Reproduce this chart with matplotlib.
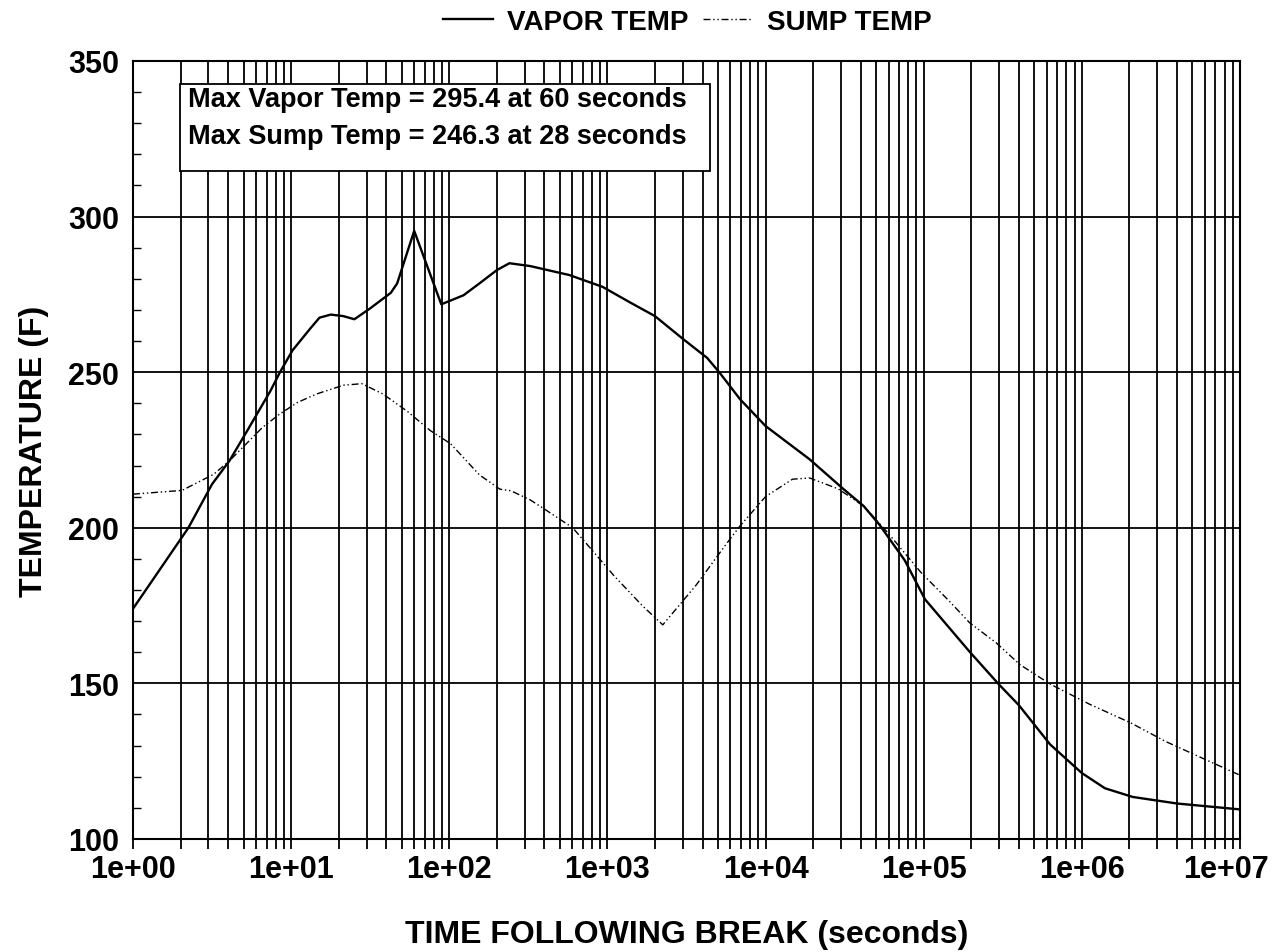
import numpy as np
import matplotlib
matplotlib.use("Agg")
import matplotlib.pyplot as plt
import matplotlib.transforms as mtransforms
from matplotlib.ticker import LogLocator, FixedLocator, FuncFormatter, NullFormatter
from matplotlib.patches import Rectangle

plt.rcParams['font.family'] = ['Liberation Sans', 'DejaVu Sans']
plt.rcParams['font.weight'] = 'bold'
plt.rcParams['axes.labelweight'] = 'bold'

# Containment vapor temperature vs time (seconds, deg F)
vapor_time = [1, 2.24, 3.16, 4.07, 5.25, 7.4, 8.5, 10.2, 13.2, 15.1, 17.8, 21.4, 25.1,
              31.6, 42.7, 46.8, 60, 89, 123, 155, 200, 240, 324, 575, 933, 1380,
              2000, 3000, 4270, 5130, 6900, 1.0e4, 1.9e4, 3.1e4, 4.17e4, 5.25e4,
              7.6e4, 1.02e5, 1.95e5, 2.95e5, 4.0e5, 6.3e5, 1.0e6, 1.4e6, 2.1e6,
              4.0e6, 1.0e7]
vapor_temp = [174, 200, 214, 221.5, 231, 244, 250, 257, 264, 267.5, 268.5, 268, 267,
              270.5, 275.5, 278.5, 295.4, 271.8, 274.7, 278.5, 282.8, 285, 284.1, 281.2,
              277.4, 272.5, 268, 260.7, 254.6, 249.8, 241.3, 232.7, 222, 212.5, 207,
              201, 189.5, 177, 160.2, 150, 143, 130.4, 121.2, 116.3, 113.5, 111.4, 109.5]

# Sump water temperature vs time
sump_time = [1, 2.04, 3.24, 4.07, 6.6, 8.5, 11, 14.5, 21.4, 28, 38, 53.7, 76, 102, 155,
             209, 245, 324, 417, 603, 794, 1100, 1660, 2240, 3630, 5500, 6900, 1.0e4,
             1.48e4, 1.9e4, 2.88e4, 4.17e4, 5.89e4, 9.55e4, 1.48e5, 1.95e5, 2.88e5,
             4.07e5, 6.3e5, 1.12e6, 2.04e6, 3.4e6, 1.0e7]
sump_temp = [210.8, 212, 217.2, 221.5, 232.3, 236.6, 240.3, 243, 245.8, 246.3, 243, 237.6,
             231.2, 227, 217, 212.4, 211.9, 209, 205.4, 200, 193, 184.6, 175, 168.8, 181.5,
             194, 200.6, 210, 215.6, 216, 212.5, 207, 198.6, 185.8, 176, 169.5, 163, 156,
             149.8, 143.3, 137.3, 131.3, 120.5]

x_decades = [0, 1, 2, 3, 4, 5, 6, 7]
y_ticks = [100, 150, 200, 250, 300, 350]
summary_lines = ["Max Vapor Temp = 295.4 at 60 seconds",
                 "Max Sump Temp = 246.3 at 28 seconds"]

fig = plt.figure(figsize=(12.73, 9.53), dpi=100)
ax = fig.add_axes([0.1045, 0.1186, 0.8695, 0.8164])

ax.plot(vapor_time, vapor_temp, color='black', lw=1.7, label='VAPOR TEMP', zorder=3)
ax.plot(sump_time, sump_temp, color='black', lw=1.0, dashes=(5, 2, 1, 2, 1, 2),
        label='SUMP TEMP', zorder=3)

ax.set_xscale('log')
ax.set_xlim(1, 1e7)
ax.set_ylim(100, 350)

ax.xaxis.set_major_locator(FixedLocator([10.0 ** k for k in x_decades]))
ax.xaxis.set_major_formatter(FuncFormatter(lambda v, p: "1e+%02d" % int(round(np.log10(v)))))
ax.xaxis.set_minor_locator(LogLocator(base=10, subs=np.arange(2, 10), numticks=100))
ax.xaxis.set_minor_formatter(NullFormatter())
ax.set_yticks(y_ticks)
ax.yaxis.set_minor_locator(FixedLocator(np.arange(100, 351, 10)))

# every log subdivision gets a vertical line, horizontals only every 50 F
ax.grid(True, which='both', axis='x', color='black', lw=1.3)
ax.grid(True, which='major', axis='y', color='black', lw=1.3)

ax.tick_params(axis='x', which='both', direction='out', length=7, width=1.3,
               labelsize=22, pad=4)
ax.tick_params(axis='y', which='major', direction='in', length=0, labelsize=22, pad=10)
ax.tick_params(axis='y', which='minor', direction='in', length=6, width=1.0)
for s in ax.spines.values():
    s.set_linewidth(1.5)

# keep the last decade label inside the figure
fig.canvas.draw()
last = ax.get_xticklabels()[-1]
last.set_transform(last.get_transform() +
                   mtransforms.ScaledTranslation(-0.14, 0, fig.dpi_scale_trans))

ax.set_xlabel('TIME FOLLOWING BREAK (seconds)', fontsize=23, labelpad=25)
ax.set_ylabel('TEMPERATURE (F)', fontsize=23, labelpad=14)

# summary box in the upper left corner
ax.add_patch(Rectangle((0.0425, 0.859), 0.4785, 0.111, transform=ax.transAxes,
                       facecolor='white', edgecolor='black', lw=1.3, zorder=5))
ax.text(0.0497, 0.951, summary_lines[0], transform=ax.transAxes, fontsize=19.5,
        va='center', ha='left', zorder=6)
ax.text(0.0497, 0.904, summary_lines[1], transform=ax.transAxes, fontsize=19.5,
        va='center', ha='left', zorder=6)

fig.legend(loc='center', bbox_to_anchor=(0.54, 0.976), ncol=2, frameon=False,
           fontsize=20, handlelength=1.8, handletextpad=0.5, columnspacing=0.5)

fig.savefig('out.png', dpi=100, facecolor='white')
